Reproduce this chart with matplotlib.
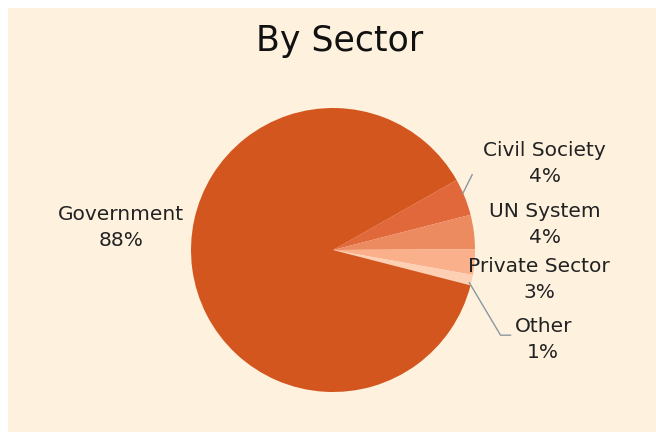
import matplotlib.pyplot as plt
from matplotlib.patches import Rectangle

# slices in drawing order (clockwise from the top right)
sectors = ['Civil Society', 'UN System', 'Private Sector', 'Other', 'Government']
shares = [4.2, 3.9, 2.9, 1.2, 87.8]
colors = ['#E0683A', '#EC8A60', '#FBB08C', '#FDD0B4', '#D4561F']

# label positions in data units (pie radius = 1)
label_pos = {
    'Civil Society': (1.49, 0.61),
    'UN System': (1.49, 0.18),
    'Private Sector': (1.45, -0.21),
    'Other': (1.48, -0.63),
    'Government': (-1.49, 0.16),
}

W, H = 656, 432
fig = plt.figure(figsize=(W / 100, H / 100), dpi=100, facecolor='white')
fig.patches.append(Rectangle((8 / W, 0), 1, 1 - 8 / H, transform=fig.transFigure,
                             facecolor='#FEF1DE', edgecolor='none', zorder=-10))

cx, cy, r = 333, 250, 142
ax = fig.add_axes([(cx - r) / W, (H - cy - r) / H, 2 * r / W, 2 * r / H])
ax.pie(shares, colors=colors, startangle=29.5, counterclock=False,
       wedgeprops=dict(linewidth=0))
ax.set_xlim(-1, 1)
ax.set_ylim(-1, 1)
ax.set_aspect('equal')
ax.axis('off')

for name, val in zip(sectors, shares):
    x, y = label_pos[name]
    ax.text(x, y, f'{name}\n{round(val)}%', ha='center', va='center',
            fontsize=14.5, color='#222222', linespacing=1.45, clip_on=False,
            family='DejaVu Sans')

# leader lines
ax.plot([0.915, 0.98], [0.40, 0.53], color='#8A98A2', lw=1, clip_on=False)
ax.plot([0.96, 1.18, 1.25], [-0.23, -0.60, -0.60], color='#8A98A2', lw=1, clip_on=False)

fig.text(340 / W, 1 - 41 / H, 'By Sector', ha='center', va='center',
         fontsize=25, family='DejaVu Sans', color='#111111')

fig.savefig('out.png', dpi=100, facecolor=fig.get_facecolor())
